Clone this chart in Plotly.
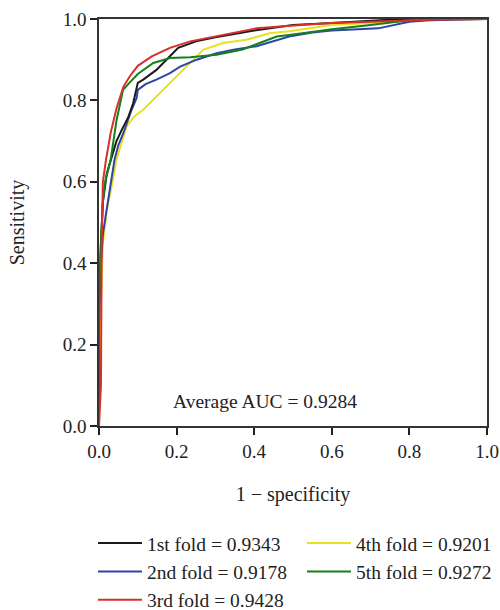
import plotly.graph_objects as go

# ROC data per fold (fpr, tpr)
fold1_fpr = [0, 0, 0.005, 0.01, 0.02, 0.03, 0.045, 0.06, 0.076, 0.088, 0.10, 0.114, 0.148, 0.174, 0.204, 0.25, 0.30, 0.40, 0.50, 0.60, 0.70, 0.78, 1.0]
fold1_tpr = [0, 0.30, 0.45, 0.55, 0.62, 0.654, 0.70, 0.73, 0.76, 0.793, 0.843, 0.851, 0.875, 0.90, 0.929, 0.945, 0.955, 0.972, 0.985, 0.99, 0.995, 1.0, 1.0]

fold2_fpr = [0, 0, 0.005, 0.01, 0.017, 0.03, 0.04, 0.05, 0.063, 0.084, 0.097, 0.10, 0.12, 0.148, 0.183, 0.209, 0.252, 0.303, 0.35, 0.406, 0.45, 0.49, 0.55, 0.60, 0.72, 0.76, 0.80, 0.85, 1.0]
fold2_tpr = [0, 0.25, 0.40, 0.47, 0.515, 0.597, 0.654, 0.69, 0.72, 0.777, 0.806, 0.826, 0.84, 0.851, 0.867, 0.883, 0.90, 0.916, 0.925, 0.933, 0.945, 0.957, 0.967, 0.972, 0.977, 0.985, 0.993, 0.997, 1.0]

fold3_fpr = [0, 0.005, 0.007, 0.01, 0.018, 0.03, 0.045, 0.063, 0.08, 0.10, 0.136, 0.183, 0.235, 0.32, 0.406, 0.484, 0.60, 0.70, 0.85, 1.0]
fold3_tpr = [0, 0.10, 0.45, 0.60, 0.654, 0.72, 0.78, 0.834, 0.86, 0.885, 0.908, 0.929, 0.945, 0.961, 0.977, 0.983, 0.99, 0.993, 0.998, 1.0]

fold4_fpr = [0, 0.005, 0.01, 0.02, 0.035, 0.045, 0.071, 0.09, 0.114, 0.157, 0.20, 0.235, 0.269, 0.32, 0.38, 0.44, 0.49, 0.60, 0.70, 0.80, 0.90, 1.0]
fold4_tpr = [0, 0.30, 0.45, 0.53, 0.60, 0.654, 0.736, 0.76, 0.777, 0.818, 0.859, 0.892, 0.925, 0.941, 0.949, 0.965, 0.97, 0.985, 0.99, 0.995, 0.998, 1.0]

fold5_fpr = [0, 0, 0.005, 0.01, 0.015, 0.03, 0.045, 0.062, 0.08, 0.10, 0.14, 0.183, 0.235, 0.303, 0.37, 0.415, 0.458, 0.50, 0.60, 0.70, 0.80, 0.85, 1.0]
fold5_tpr = [0, 0.30, 0.45, 0.55, 0.597, 0.654, 0.75, 0.826, 0.845, 0.865, 0.892, 0.904, 0.906, 0.912, 0.925, 0.941, 0.957, 0.962, 0.975, 0.985, 0.997, 1.0, 1.0]

fold_names = ["1st fold = 0.9343", "2nd fold = 0.9178", "3rd fold = 0.9428",
              "4th fold = 0.9201", "5th fold = 0.9272"]
fold_colors = ["#1a1a1a", "#2e45a8", "#d8302a", "#e9e11e", "#14801a"]
legend_ranks = [1, 3, 5, 2, 4]
avg_text = "Average AUC = 0.9284"
tick_vals = [0, 0.2, 0.4, 0.6, 0.8, 1.0]
tick_text = ["0.0", "0.2", "0.4", "0.6", "0.8", "1.0"]

FONT = "Liberation Serif"
TXT = "#222"

fig = go.Figure()
data = [(fold1_fpr, fold1_tpr), (fold2_fpr, fold2_tpr), (fold3_fpr, fold3_tpr),
        (fold4_fpr, fold4_tpr), (fold5_fpr, fold5_tpr)]
order = [3, 1, 0, 4, 2]  # drawing order (yellow bottom, red on top)
for i in order:
    fx, fy = data[i]
    fig.add_trace(go.Scatter(x=fx, y=fy, mode="lines", name=fold_names[i],
                             line=dict(color=fold_colors[i], width=2),
                             legendrank=legend_ranks[i]))

fig.add_annotation(x=0.428, y=0.059, xref="x", yref="y", text=avg_text,
                   showarrow=False, font=dict(family=FONT, size=19.5, color=TXT))

axis_common = dict(range=[0, 1], tickvals=tick_vals, ticktext=tick_text,
                   ticks="outside", ticklen=7, tickwidth=2, tickcolor=TXT,
                   showline=True, linecolor="#333", linewidth=1.5, mirror=True,
                   showgrid=False, zeroline=False, automargin=False,
                   tickfont=dict(family=FONT, size=19, color=TXT))

fig.update_layout(
    width=500, height=610,
    margin=dict(l=99, r=13, t=19, b=184, autoexpand=False),
    plot_bgcolor="white", paper_bgcolor="white",
    xaxis=dict(**axis_common, title=dict(text="1 − specificity", standoff=26,
                                         font=dict(family=FONT, size=20, color=TXT))),
    yaxis=dict(**axis_common, title=dict(text="Sensitivity", standoff=33,
                                         font=dict(family=FONT, size=20, color=TXT))),
    legend=dict(orientation="h", x=-0.0155, xanchor="left", y=-0.2406, yanchor="top",
                entrywidth=150, itemwidth=44, traceorder="normal",
                font=dict(family=FONT, size=19.5, color=TXT),
                bgcolor="rgba(0,0,0,0)"),
)

fig.write_html("out.html", config={"displayModeBar": False},
               post_script="document.body.style.margin='0px';")
